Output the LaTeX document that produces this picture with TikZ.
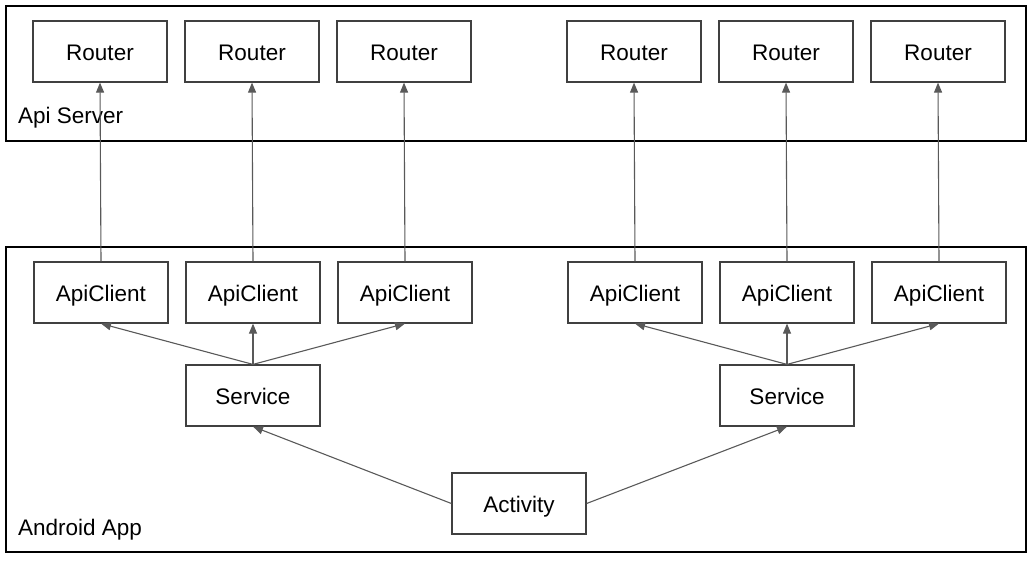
\documentclass[tikz,border=0pt]{standalone}
\usepackage{fontspec}
\setmainfont{Liberation Sans}
\usetikzlibrary{arrows.meta}

\tikzset{
  box/.style={draw=black!75, line width=1.2pt, fill=white, minimum width=134pt,
    minimum height=61pt, inner sep=0pt, text height=20pt, text depth=2pt,
    font=\fontsize{22.5}{26}\selectfont},
  frame/.style={draw=black, line width=2.6pt},
  link/.style={draw=black!65, line width=1.1pt, -{Triangle[length=10pt, width=8pt]}},
  tag/.style={anchor=base west, inner sep=0pt, font=\fontsize{22.5}{26}\selectfont}
}

\begin{document}
\begin{tikzpicture}[x=1pt, y=-1pt]
  \useasboundingbox (0, 0) rectangle (1033, 560);

  % the two systems
  \draw[frame] (6, 6) rectangle (1026, 141);
  \draw[frame] (6, 247) rectangle (1026, 552);
  \node[tag] (servertag) at (18, 123.5) {Api Server};
  \node[tag] (apptag) at (18, 535) {Android App};

  % routers and clients
  \foreach \i/\xpos in {1/100, 2/252, 3/404, 4/634, 5/786, 6/938} {
    \node[box] (router\i) at (\xpos, 51.5) {Router};
    \node[box] (client\i) at (\xpos + 1, 292.5) {ApiClient};
    \draw[link] (client\i.north) -- (router\i.south);
  }

  \node[box] (service1) at (253, 395.5) {Service};
  \node[box] (service2) at (787, 395.5) {Service};
  \node[box] (activity) at (519, 503.5) {Activity};

  \foreach \c in {1, 2, 3} {
    \draw[link] (service1.north) -- (client\c.south);
  }
  \foreach \c in {4, 5, 6} {
    \draw[link] (service2.north) -- (client\c.south);
  }

  \draw[link] (activity.west) -- (service1.south);
  \draw[link] (activity.east) -- (service2.south);
\end{tikzpicture}
\end{document}
